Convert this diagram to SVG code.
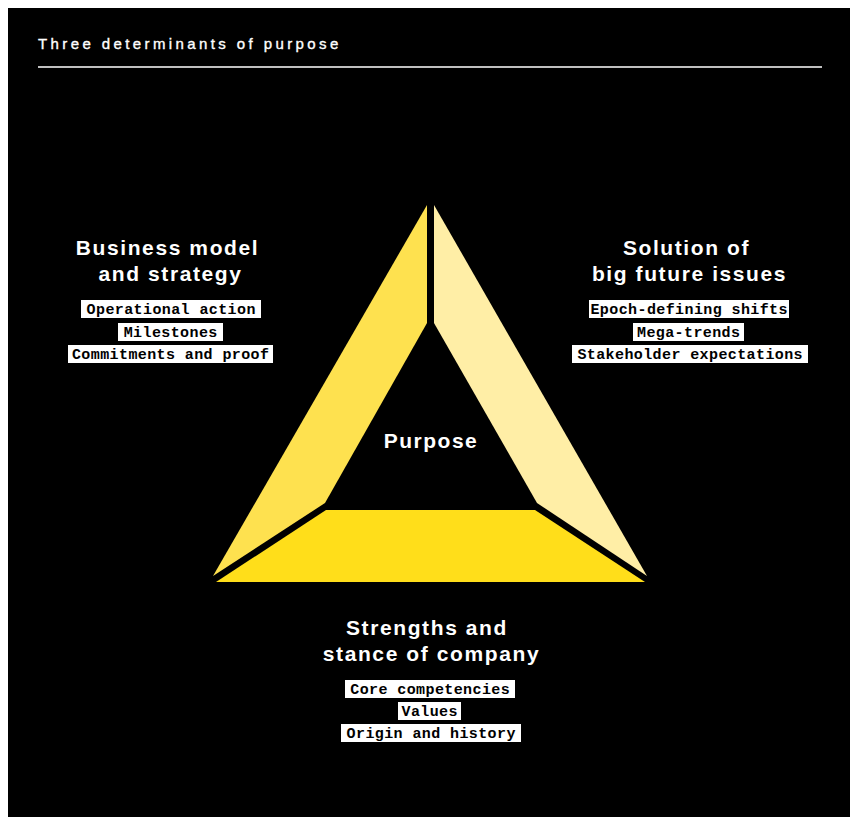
<svg xmlns="http://www.w3.org/2000/svg" width="850" height="817" viewBox="0 0 850 817">
  <style>
    .title { font-family: "Liberation Sans", Arial, sans-serif; font-size: 15px; letter-spacing: 3.4px; fill: #ffffff; stroke: #ffffff; stroke-width: 0.35px; }
    .head { font-family: "Liberation Sans", Arial, sans-serif; font-weight: bold; font-size: 21px; letter-spacing: 1.6px; fill: #ffffff; text-anchor: middle; }
    .center { font-family: "Liberation Sans", Arial, sans-serif; font-weight: bold; font-size: 21px; letter-spacing: 1.5px; fill: #ffffff; text-anchor: middle; }
    .tag { font-family: "Liberation Mono", "Courier New", monospace; font-weight: bold; font-size: 15px; letter-spacing: 0.4px; fill: #000000; text-anchor: middle; }
    .tagbox { fill: #ffffff; }
  </style>

  <!-- page background -->
  <rect x="0" y="0" width="850" height="817" fill="#ffffff"/>
  <rect x="8" y="8" width="842" height="809" fill="#000000"/>

  <!-- heading and rule -->
  <text class="title" x="38" y="49">Three determinants of purpose</text>
  <line x1="38" y1="67" x2="822" y2="67" stroke="#ffffff" stroke-width="1.5"/>

  <!-- triangle segments -->
  <g id="segments">
    <polygon id="seg-left" points="427,205 427,323 325,503 213,576" fill="#fee14f"/>
    <polygon id="seg-right" points="434,205 434,323 537,503 647,576" fill="#ffeea6"/>
    <polygon id="seg-bottom" points="326,510 535,510 645,582 216,582" fill="#ffde1a"/>
  </g>

  <g id="purpose">
    <text class="center" x="431" y="448">Purpose</text>
  </g>

  <!-- left: business model -->
  <g id="business-model">
    <text class="head" x="167.5" y="255">Business model</text>
    <text class="head" x="170.5" y="281">and strategy</text>
    <rect class="tagbox" x="81" y="300" width="180" height="18"/>
    <text class="tag" x="171.2" y="314">Operational action</text>
    <rect class="tagbox" x="118" y="323" width="105" height="18"/>
    <text class="tag" x="170.7" y="337">Milestones</text>
    <rect class="tagbox" x="68" y="345" width="205" height="18"/>
    <text class="tag" x="170.7" y="359">Commitments and proof</text>
  </g>

  <!-- right: future issues -->
  <g id="future-issues">
    <text class="head" x="686.5" y="255">Solution of</text>
    <text class="head" x="689.5" y="281">big future issues</text>
    <rect class="tagbox" x="589" y="300" width="200" height="18"/>
    <text class="tag" x="689.2" y="314">Epoch-defining shifts</text>
    <rect class="tagbox" x="633" y="323" width="111" height="18"/>
    <text class="tag" x="688.7" y="337">Mega-trends</text>
    <rect class="tagbox" x="572" y="345" width="236" height="18"/>
    <text class="tag" x="690.2" y="359">Stakeholder expectations</text>
  </g>

  <!-- bottom: company strengths -->
  <g id="company-strengths">
    <text class="head" x="427" y="635">Strengths and</text>
    <text class="head" x="431.5" y="661">stance of company</text>
    <rect class="tagbox" x="345" y="680" width="170" height="18"/>
    <text class="tag" x="430.2" y="694">Core competencies</text>
    <rect class="tagbox" x="398" y="702" width="63" height="18"/>
    <text class="tag" x="429.7" y="716">Values</text>
    <rect class="tagbox" x="341" y="724" width="180" height="18"/>
    <text class="tag" x="431.2" y="738">Origin and history</text>
  </g>
</svg>
